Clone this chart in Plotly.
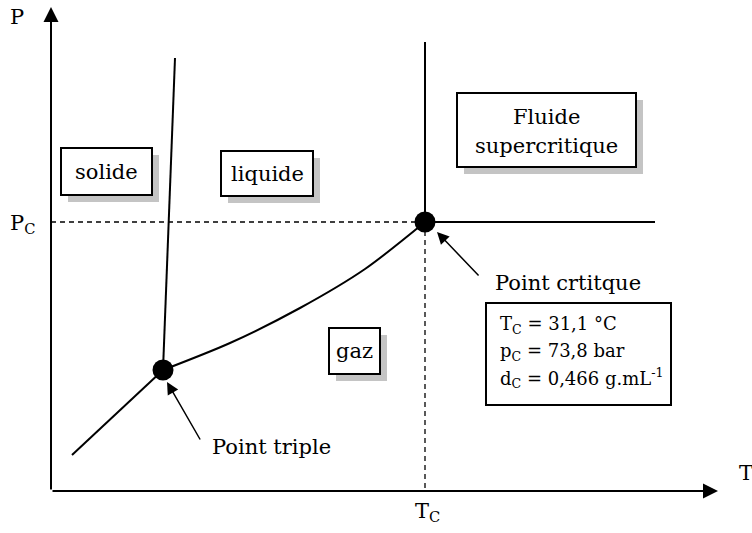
import plotly.graph_objects as go

# ---- schematic data (diagram units: x to the right, y downward, window pixels) ----
origin = (51, 491)
p_axis_tip = (51, 7)
t_axis_tip = (718, 491)

triple_point = (163, 370)
critical_point = (425, 222)

sublimation_x = [72, 163]
sublimation_y = [455, 370]

fusion_x = [163, 175]
fusion_y = [370, 58]

vaporization_x = [163, 230, 300, 365, 425]
vaporization_y = [370, 343, 308, 269, 222]

critical_vertical_top = 42
critical_horizontal_end = 655

info_lines = ["T<sub>C</sub> = 31,1 °C",
              "p<sub>C</sub> = 73,8 bar",
              "d<sub>C</sub> = 0,466 g.mL<sup>-1</sup>"]

FONT = "DejaVu Serif"
FS = 21

fig = go.Figure()

# curves
fig.add_trace(go.Scatter(x=sublimation_x, y=sublimation_y, mode="lines",
                         line=dict(color="black", width=2), hoverinfo="skip"))
fig.add_trace(go.Scatter(x=fusion_x, y=fusion_y, mode="lines",
                         line=dict(color="black", width=2), hoverinfo="skip"))
fig.add_trace(go.Scatter(x=vaporization_x, y=vaporization_y, mode="lines",
                         line=dict(color="black", width=2, shape="spline", smoothing=0.8),
                         hoverinfo="skip"))
# supercritical boundaries
fig.add_trace(go.Scatter(x=[critical_point[0], critical_point[0]],
                         y=[critical_vertical_top, critical_point[1]], mode="lines",
                         line=dict(color="black", width=2), hoverinfo="skip"))
fig.add_trace(go.Scatter(x=[critical_point[0], critical_horizontal_end],
                         y=[critical_point[1], critical_point[1]], mode="lines",
                         line=dict(color="black", width=2), hoverinfo="skip"))
# dashed guides
fig.add_trace(go.Scatter(x=[origin[0], critical_point[0]],
                         y=[critical_point[1], critical_point[1]], mode="lines",
                         line=dict(color="black", width=1.3, dash="5px,4px"), hoverinfo="skip"))
fig.add_trace(go.Scatter(x=[critical_point[0], critical_point[0]],
                         y=[critical_point[1], origin[1]], mode="lines",
                         line=dict(color="black", width=1.3, dash="5px,4px"), hoverinfo="skip"))
# points
fig.add_trace(go.Scatter(x=[triple_point[0], critical_point[0]],
                         y=[triple_point[1], critical_point[1]], mode="markers",
                         marker=dict(color="black", size=21), hoverinfo="skip"))

shapes = []
# labelled boxes: (x0, y0, x1, y1, shadow)
boxes = [
    (61, 148, 152, 195, True),
    (221, 151, 313, 196, True),
    (457, 93, 636, 167, True),
    (329, 328, 380, 374, True),
    (486, 303, 671, 405, False),
]
for x0, y0, x1, y1, sh in boxes:
    if sh:
        shapes.append(dict(type="rect", xref="x", yref="y", x0=x0 + 7, y0=y0 + 7,
                           x1=x1 + 7, y1=y1 + 7, fillcolor="#c4c4c4",
                           line=dict(width=0)))
    shapes.append(dict(type="rect", xref="x", yref="y", x0=x0, y0=y0, x1=x1, y1=y1,
                       fillcolor="white", line=dict(color="black", width=2)))

annotations = []

def txt(x, y, s, xa="center", ya="middle", size=FS):
    annotations.append(dict(x=x, y=y, xref="x", yref="y", text=s, showarrow=False,
                            xanchor=xa, yanchor=ya,
                            font=dict(family=FONT, size=size, color="black")))

def arrow(tip, tail, size, width):
    annotations.append(dict(x=tip[0], y=tip[1], ax=tail[0], ay=tail[1],
                            xref="x", yref="y", axref="x", ayref="y", text="",
                            showarrow=True, arrowhead=2, arrowsize=size, arrowwidth=width,
                            arrowcolor="black"))

# axis arrows
arrow(p_axis_tip, origin, 1.5, 2)
arrow(t_axis_tip, origin, 1.5, 2)
# pointer arrows
arrow((437, 232), (480, 277), 1.6, 1.5)
arrow((167, 382), (201, 441), 1.6, 1.5)

txt(17, 17, "P")
txt(737, 473, "T", xa="left")
txt(8, 224, "P<sub>C</sub>", xa="left")
txt(427, 512, "T<sub>C</sub>")

txt(106.5, 172, "solide")
txt(267, 174, "liquide")
txt(546.5, 117, "Fluide")
txt(546.5, 146, "supercritique")
txt(354.5, 351, "gaz")

txt(493, 283, "Point crtitque", xa="left")
txt(210, 447, "Point triple", xa="left")

info_y = [325, 352, 378]
for yy, s in zip(info_y, info_lines):
    txt(498, yy, s, xa="left", size=18)

fig.update_layout(
    width=752, height=533,
    margin=dict(l=0, r=0, t=0, b=0),
    paper_bgcolor="white", plot_bgcolor="white",
    showlegend=False,
    xaxis=dict(range=[0, 752], visible=False, fixedrange=True),
    yaxis=dict(range=[533, 0], visible=False, fixedrange=True),
    shapes=shapes,
    annotations=annotations,
)

# remove the default page margin so the figure fills the window exactly
fig.write_html(
    "out.html",
    config={"displayModeBar": False},
    post_script="document.body.style.margin='0';document.body.style.overflow='hidden';",
)
